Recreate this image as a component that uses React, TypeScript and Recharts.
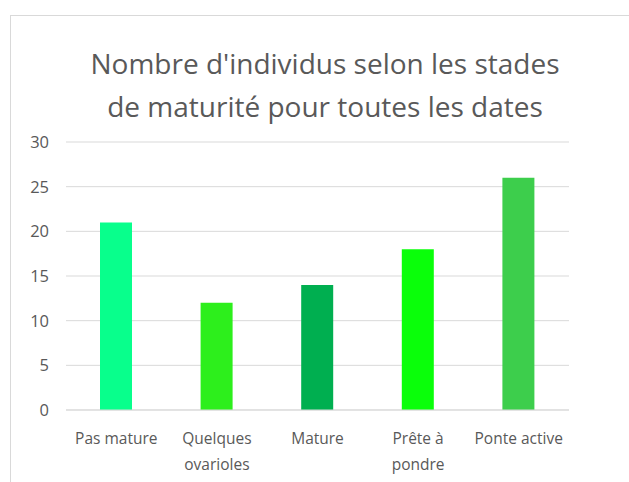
import React from 'react';
import { BarChart, Bar, XAxis, YAxis, CartesianGrid, Cell } from 'recharts';

const categories = ['Pas mature', 'Quelques ovarioles', 'Mature', 'Prête à pondre', 'Ponte active'];
const xTickLines = [['Pas mature'], ['Quelques', 'ovarioles'], ['Mature'], ['Prête à', 'pondre'], ['Ponte active']];
const counts = [21, 12, 14, 18, 26];
const barColors = ['#08FF8C', '#2DEF1C', '#00AF50', '#0AFF0A', '#3DCE4C'];
const yTicks = [0, 5, 10, 15, 20, 25, 30];
const titleLines = ["Nombre d'individus selon les stades", 'de maturité pour toutes les dates'];

const data = categories.map((name, i) => ({ name, value: counts[i] }));

const FONT = '"Open Sans", sans-serif';
const TEXT_COLOR = '#595959';
const GRID_COLOR = '#d9d9d9';

const XTick = (props: any) => {
  const { x, y, index } = props;
  const lines = xTickLines[index] || [];
  return (
    <text x={x} y={y} textAnchor="middle" fill={TEXT_COLOR} fontSize={15.5} fontFamily={FONT}>
      {lines.map((l, i) => (
        <tspan key={i} x={x} dy={i === 0 ? '0.9em' : 26}>
          {l}
        </tspan>
      ))}
    </text>
  );
};

export default function App() {
  return (
    <div style={{ position: 'absolute', left: 0, top: 0, width: 629, height: 482, background: '#fff', overflow: 'hidden' }}>
      <div
        style={{
          position: 'absolute',
          left: 10,
          top: 15,
          width: 640,
          height: 500,
          borderTop: `1px solid ${GRID_COLOR}`,
          borderLeft: `1px solid ${GRID_COLOR}`,
          boxSizing: 'border-box',
        }}
      />
      <div
        style={{
          position: 'absolute',
          left: 10,
          top: 42,
          width: 630,
          textAlign: 'center',
          fontFamily: FONT,
          fontSize: 28,
          lineHeight: '43px',
          color: TEXT_COLOR,
        }}
      >
        {titleLines.map((l, i) => (
          <div key={i}>{l}</div>
        ))}
      </div>
      <div style={{ position: 'absolute', left: 0, top: 0 }}>
        <BarChart
          width={629}
          height={482}
          data={data}
          margin={{ top: 142, right: 60, left: 10, bottom: 12 }}
        >
          <CartesianGrid vertical={false} stroke={GRID_COLOR} />
          <XAxis
            dataKey="name"
            height={60}
            interval={0}
            tickLine={false}
            axisLine={{ stroke: GRID_COLOR }}
            tickMargin={14}
            tick={<XTick />}
          />
          <YAxis
            width={56}
            domain={[0, 30]}
            ticks={yTicks}
            interval={0}
            tickLine={false}
            axisLine={false}
            tickMargin={11}
            tick={{ fill: TEXT_COLOR, fontSize: 16.5, fontFamily: FONT }}
          />
          <Bar dataKey="value" barSize={32} isAnimationActive={false}>
            {data.map((d, i) => (
              <Cell key={d.name} fill={barColors[i]} />
            ))}
          </Bar>
        </BarChart>
      </div>
    </div>
  );
}
